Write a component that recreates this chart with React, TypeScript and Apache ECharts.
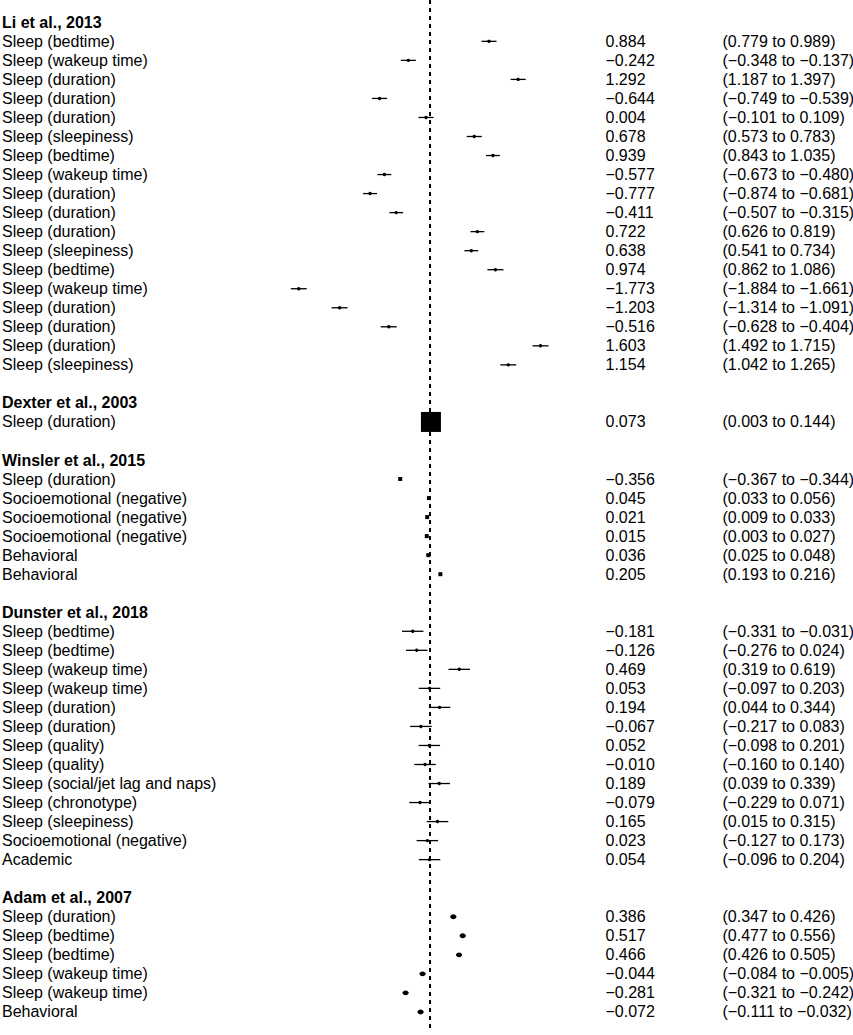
import React, { useEffect, useRef } from "react";
import * as echarts from "echarts";

// ---------- data ----------
const studies = [
  "Li et al., 2013",
  "Dexter et al., 2003",
  "Winsler et al., 2015",
  "Dunster et al., 2018",
  "Adam et al., 2007",
];

const liOutcomes = [
  "Sleep (bedtime)", "Sleep (wakeup time)", "Sleep (duration)", "Sleep (duration)",
  "Sleep (duration)", "Sleep (sleepiness)", "Sleep (bedtime)", "Sleep (wakeup time)",
  "Sleep (duration)", "Sleep (duration)", "Sleep (duration)", "Sleep (sleepiness)",
  "Sleep (bedtime)", "Sleep (wakeup time)", "Sleep (duration)", "Sleep (duration)",
  "Sleep (duration)", "Sleep (sleepiness)",
];
const liEstimates = [0.884, -0.242, 1.292, -0.644, 0.004, 0.678, 0.939, -0.577, -0.777, -0.411, 0.722, 0.638, 0.974, -1.773, -1.203, -0.516, 1.603, 1.154];
const liLower = [0.779, -0.348, 1.187, -0.749, -0.101, 0.573, 0.843, -0.673, -0.874, -0.507, 0.626, 0.541, 0.862, -1.884, -1.314, -0.628, 1.492, 1.042];
const liUpper = [0.989, -0.137, 1.397, -0.539, 0.109, 0.783, 1.035, -0.48, -0.681, -0.315, 0.819, 0.734, 1.086, -1.661, -1.091, -0.404, 1.715, 1.265];

const dexterOutcomes = ["Sleep (duration)"];
const dexterEstimates = [0.073];
const dexterLower = [0.003];
const dexterUpper = [0.144];

const winslerOutcomes = [
  "Sleep (duration)", "Socioemotional (negative)", "Socioemotional (negative)",
  "Socioemotional (negative)", "Behavioral", "Behavioral",
];
const winslerEstimates = [-0.356, 0.045, 0.021, 0.015, 0.036, 0.205];
const winslerLower = [-0.367, 0.033, 0.009, 0.003, 0.025, 0.193];
const winslerUpper = [-0.344, 0.056, 0.033, 0.027, 0.048, 0.216];

const dunsterOutcomes = [
  "Sleep (bedtime)", "Sleep (bedtime)", "Sleep (wakeup time)", "Sleep (wakeup time)",
  "Sleep (duration)", "Sleep (duration)", "Sleep (quality)", "Sleep (quality)",
  "Sleep (social/jet lag and naps)", "Sleep (chronotype)", "Sleep (sleepiness)",
  "Socioemotional (negative)", "Academic",
];
const dunsterEstimates = [-0.181, -0.126, 0.469, 0.053, 0.194, -0.067, 0.052, -0.01, 0.189, -0.079, 0.165, 0.023, 0.054];
const dunsterLower = [-0.331, -0.276, 0.319, -0.097, 0.044, -0.217, -0.098, -0.16, 0.039, -0.229, 0.015, -0.127, -0.096];
const dunsterUpper = [-0.031, 0.024, 0.619, 0.203, 0.344, 0.083, 0.201, 0.14, 0.339, 0.071, 0.315, 0.173, 0.204];

const adamOutcomes = [
  "Sleep (duration)", "Sleep (bedtime)", "Sleep (bedtime)",
  "Sleep (wakeup time)", "Sleep (wakeup time)", "Behavioral",
];
const adamEstimates = [0.386, 0.517, 0.466, -0.044, -0.281, -0.072];
const adamLower = [0.347, 0.477, 0.426, -0.084, -0.321, -0.111];
const adamUpper = [0.426, 0.556, 0.505, -0.005, -0.242, -0.032];

const referenceLineValue = 0.06;

// ---------- build rows ----------
type Row = { label: string; header: boolean; est?: number; lo?: number; hi?: number; study: number };

const groups = [
  { outcomes: liOutcomes, est: liEstimates, lo: liLower, hi: liUpper },
  { outcomes: dexterOutcomes, est: dexterEstimates, lo: dexterLower, hi: dexterUpper },
  { outcomes: winslerOutcomes, est: winslerEstimates, lo: winslerLower, hi: winslerUpper },
  { outcomes: dunsterOutcomes, est: dunsterEstimates, lo: dunsterLower, hi: dunsterUpper },
  { outcomes: adamOutcomes, est: adamEstimates, lo: adamLower, hi: adamUpper },
];

const rows: Row[] = [];
groups.forEach((g, s) => {
  if (s > 0) rows.push({ label: "", header: false, study: s });
  rows.push({ label: studies[s], header: true, study: s });
  g.outcomes.forEach((o, i) =>
    rows.push({ label: o, header: false, est: g.est[i], lo: g.lo[i], hi: g.hi[i], study: s })
  );
});

const fmt = (v: number) => (v < 0 ? "\u2212" : "") + Math.abs(v).toFixed(3);

// marker style per study (visual weight)
const markerStyles: any[] = [
  { shape: "dot", r: 1.7 },
  { shape: "square", size: 20 },
  { shape: "square", size: 4 },
  { shape: "dot", r: 1.7 },
  { shape: "ellipse", rx: 3, ry: 2.4 },
];

const FONT = "'Liberation Sans', Arial, Helvetica, sans-serif";

export default function App() {
  const ref = useRef<HTMLDivElement>(null);

  useEffect(() => {
    if (!ref.current) return;
    const chart = echarts.init(ref.current, null, { renderer: "svg" });

    const labelsLeft = rows.map((r) => r.label);
    const labelsValue = rows.map((r) => (r.est == null ? "" : fmt(r.est)));
    const labelsCI = rows.map((r) =>
      r.est == null ? "" : `(${fmt(r.lo as number)} to ${fmt(r.hi as number)})`
    );

    const pointData: any[] = [];
    rows.forEach((r, i) => {
      if (r.est != null) pointData.push([r.est, i, r.lo, r.hi, r.study]);
    });

    const yBase = {
      type: "category" as const,
      inverse: true,
      boundaryGap: true,
      axisLine: { show: false },
      axisTick: { show: false },
      splitLine: { show: false },
    };
    const textStyle = { color: "#000", fontSize: 16, fontFamily: FONT };

    chart.setOption({
      animation: false,
      backgroundColor: "#fff",
      grid: {
        left: 282.5,
        right: 284.1,
        top: 12.8,
        bottom: 13.6,
        containLabel: false,
        outerBoundsMode: "none",
      },
      xAxis: { type: "value", min: -2, max: 2, show: false },
      yAxis: [
        {
          ...yBase,
          position: "left",
          data: labelsLeft,
          axisLabel: {
            ...textStyle,
            interval: 0,
            align: "left",
            margin: 280.5,
            formatter: (v: string, idx: number) => (rows[idx] && rows[idx].header ? `{b|${v}}` : v),
            rich: { b: { ...textStyle, fontWeight: "bold" } },
          },
        },
        {
          ...yBase,
          position: "right",
          data: labelsValue,
          axisLabel: { ...textStyle, interval: 0, align: "left", margin: 36.6 },
        },
        {
          ...yBase,
          position: "right",
          data: labelsCI,
          axisLabel: { ...textStyle, interval: 0, align: "left", margin: 153.6 },
        },
      ],
      series: [
        {
          type: "custom",
          yAxisIndex: 0,
          z: 1,
          clip: false,
          data: [[referenceLineValue, 0]],
          renderItem: (_p: any, api: any) => {
            const p = api.coord([api.value(0), 0]);
            return {
              type: "line",
              shape: { x1: p[0], y1: 0, x2: p[0], y2: 1031 },
              style: { stroke: "#000", lineWidth: 2, lineDash: [4, 4] },
            };
          },
        },
        {
          type: "custom",
          yAxisIndex: 0,
          z: 2,
          clip: false,
          data: pointData,
          renderItem: (_p: any, api: any) => {
            const row = api.value(1);
            const c = api.coord([api.value(0), row]);
            const l = api.coord([api.value(2), row]);
            const h = api.coord([api.value(3), row]);
            const m = markerStyles[api.value(4)];
            const children: any[] = [
              {
                type: "line",
                shape: { x1: l[0], y1: l[1], x2: h[0], y2: h[1] },
                style: { stroke: "#000", lineWidth: 1.3 },
              },
            ];
            if (m.shape === "dot") {
              children.push({ type: "circle", shape: { cx: c[0], cy: c[1], r: m.r }, style: { fill: "#000" } });
            } else if (m.shape === "square") {
              children.push({
                type: "rect",
                shape: { x: c[0] - m.size / 2, y: c[1] - m.size / 2, width: m.size, height: m.size },
                style: { fill: "#000" },
              });
            } else {
              children.push({
                type: "ellipse",
                shape: { cx: c[0], cy: c[1], rx: m.rx, ry: m.ry },
                style: { fill: "#000" },
              });
            }
            return { type: "group", children };
          },
        },
      ],
    });

    return () => chart.dispose();
  }, []);

  return (
    <div
      ref={ref}
      style={{ position: "absolute", left: 0, top: 0, width: 853, height: 1035, background: "#fff" }}
    />
  );
}
